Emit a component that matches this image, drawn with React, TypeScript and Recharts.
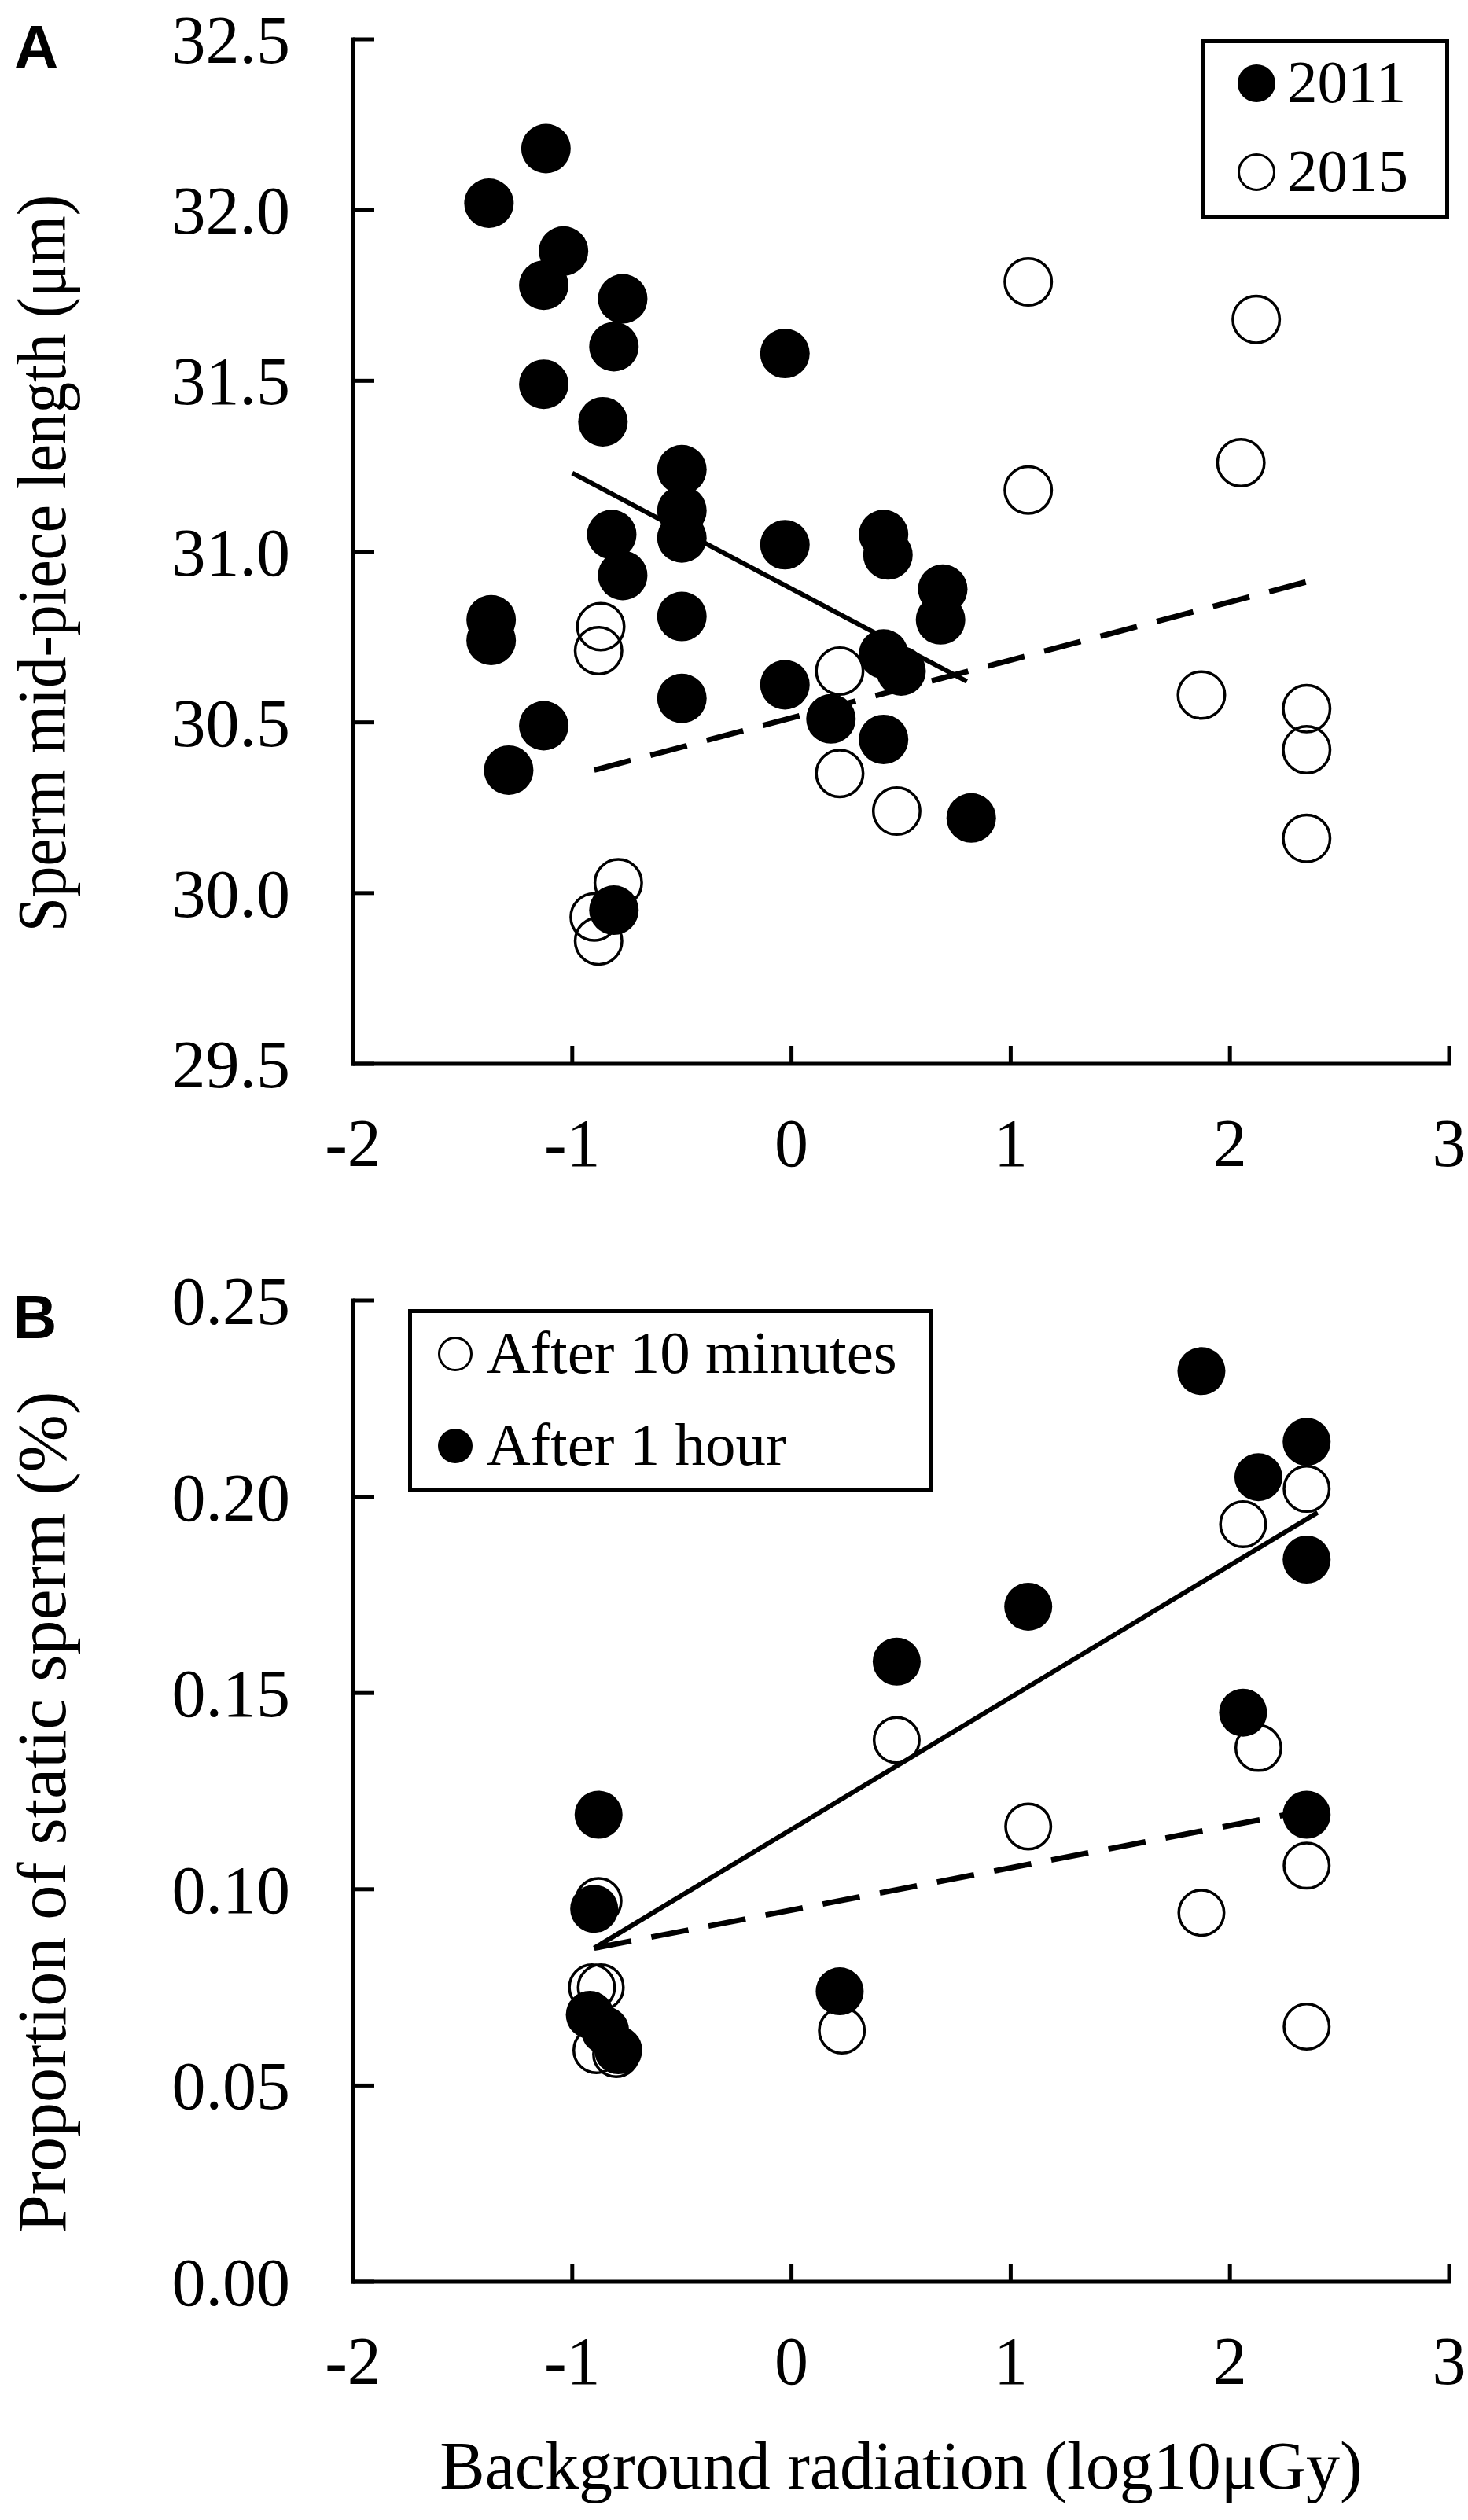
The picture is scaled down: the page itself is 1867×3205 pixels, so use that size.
import React from 'react';
import { ScatterChart, Scatter, XAxis, YAxis, ReferenceLine, Legend } from 'recharts';

const SERIF = '"Liberation Serif", "Times New Roman", serif';
const SANS = '"Liberation Sans", Arial, sans-serif';

// shared x axis: background radiation (log10 µGy)
const radiationTicks = [-2, -1, 0, 1, 2, 3];

// panel A: sperm mid-piece length
const lengthTicks = [29.5, 30.0, 30.5, 31.0, 31.5, 32.0, 32.5];
const length2011: [number, number][] = [
  [-1.38, 32.02], [-1.12, 32.18], [-1.04, 31.88], [-1.13, 31.78], [-0.77, 31.74],
  [-0.81, 31.60], [-1.13, 31.49], [-0.86, 31.38], [-0.03, 31.58], [-0.50, 31.24],
  [-0.50, 31.12], [-0.50, 31.04], [-0.82, 31.05], [-0.77, 30.93], [-0.03, 31.02],
  [-0.50, 30.81], [-1.37, 30.80], [-1.37, 30.74], [-0.50, 30.57], [-1.13, 30.49],
  [-1.29, 30.36], [-0.03, 30.61], [0.18, 30.51], [0.42, 31.05], [0.44, 30.99],
  [0.42, 30.70], [0.50, 30.65], [0.42, 30.45], [0.69, 30.89], [0.68, 30.80],
  [0.82, 30.22], [-0.81, 29.95],
];
const length2015: [number, number][] = [
  [1.08, 31.79], [2.12, 31.68], [1.08, 31.18], [2.05, 31.26], [-0.87, 30.78],
  [-0.88, 30.71], [0.22, 30.65], [0.22, 30.35], [0.48, 30.24], [1.87, 30.58],
  [2.35, 30.54], [2.35, 30.42], [2.35, 30.16], [-0.79, 30.03], [-0.90, 29.93],
  [-0.88, 29.86],
];
const fit2011: [number, number][] = [[-1.0, 31.23], [0.8, 30.62]];
const fit2015: [number, number][] = [[-0.9, 30.36], [2.4, 30.92]];

// panel B: proportion of static sperm
const staticTicks = [0, 0.05, 0.1, 0.15, 0.2, 0.25];
const static10min: [number, number][] = [
  [2.06, 0.193], [2.35, 0.202], [0.48, 0.138], [2.13, 0.136], [1.08, 0.116],
  [2.35, 0.106], [1.87, 0.094], [0.23, 0.064], [2.35, 0.065], [-0.88, 0.097],
  [-0.91, 0.075], [-0.87, 0.075], [-0.89, 0.059], [-0.80, 0.058],
];
const static1hour: [number, number][] = [
  [1.87, 0.232], [2.35, 0.214], [2.13, 0.205], [2.35, 0.184], [1.08, 0.172],
  [0.48, 0.158], [2.06, 0.145], [2.35, 0.119], [-0.88, 0.119], [-0.90, 0.095],
  [0.22, 0.074], [-0.92, 0.068], [-0.85, 0.064], [-0.79, 0.059],
];
const fit1hour: [number, number][] = [[-0.9, 0.085], [2.4, 0.196]];
const fit10min: [number, number][] = [[-0.9, 0.085], [2.35, 0.12]];

const toPoints = (rows: [number, number][]) => rows.map(([x, y]) => ({ x, y }));
const toSegment = (rows: [number, number][]) => rows.map(([x, y]) => ({ x, y }));

const serifText = (size: number) => ({ fontFamily: SERIF, fontSize: size });

const dot = (filled: boolean, r: number) => (props: any) => (
  <circle
    cx={props.cx}
    cy={props.cy}
    r={filled ? r : r - 1.75}
    fill={filled ? '#000' : 'none'}
    stroke="#000"
    strokeWidth={filled ? 0 : 3.5}
  />
);

const YTick = (digits: number) => (props: any) => {
  const { x, y, payload } = props;
  return (
    <g>
      <line x1={x} x2={x + 27} y1={y} y2={y} stroke="#000" strokeWidth={5} />
      <text x={x - 80} y={y + 30} textAnchor="end" style={serifText(86)} fill="#000">
        {Number(payload.value).toFixed(digits)}
      </text>
    </g>
  );
};

const XTick = (props: any) => {
  const { x, y, payload } = props;
  return (
    <g>
      <line x1={x} x2={x} y1={y} y2={y - 23} stroke="#000" strokeWidth={5} />
      <text x={x} y={y + 130} textAnchor="middle" style={serifText(86)} fill="#000">
        {payload.value}
      </text>
    </g>
  );
};

// rotated axis title; squeeze < 1 narrows the text along its reading direction
const yTitle = (text: string, dy: number, squeeze: number) => (props: any) => {
  const vb = props.viewBox || { x: 0, y: 0, width: 0, height: 0 };
  const cx = 83;
  const cy = vb.y + vb.height / 2 + dy;
  return (
    <g transform={`translate(${cx}, ${cy}) rotate(-90) scale(${squeeze}, 1)`}>
      <text x={0} y={0} textAnchor="middle" style={serifText(88)} fill="#000">
        {text}
      </text>
    </g>
  );
};

const xTitle = (text: string, baseline: number) => (props: any) => {
  const vb = props.viewBox || { x: 0, y: 0, width: 0, height: 0 };
  return (
    <text x={vb.x + vb.width / 2} y={vb.y + baseline} textAnchor="middle" style={serifText(86)} fill="#000">
      {text}
    </text>
  );
};

interface LegendBoxProps {
  payload?: any[];
  order: string[];
  filled: Record<string, boolean>;
  width: number;
  height: number;
  markerX: number;
  textX: number;
  rows: number[];
  r: number;
}

const LegendBox = ({ payload, order, filled, width, height, markerX, textX, rows, r }: LegendBoxProps) => {
  const names = order.filter((n) => !payload || payload.some((p) => p.value === n));
  return (
    <svg width={width} height={height} style={{ display: 'block' }}>
      <rect x={2.5} y={2.5} width={width - 5} height={height - 5} fill="#fff" stroke="#000" strokeWidth={5} />
      {names.map((name, i) => (
        <g key={name}>
          <circle
            cx={markerX}
            cy={rows[i] - 24}
            r={filled[name] ? r : r - 1.5}
            fill={filled[name] ? '#000' : 'none'}
            stroke="#000"
            strokeWidth={filled[name] ? 0 : 3}
          />
          <text x={textX} y={rows[i]} style={serifText(77)} fill="#000">
            {name}
          </text>
        </g>
      ))}
    </svg>
  );
};

const axisLine = { stroke: '#000', strokeWidth: 5, strokeLinecap: 'square' as const };

export default function App() {
  return (
    <div style={{ position: 'relative', width: 1867, height: 3205, background: '#fff' }}>
      <style>{'body{margin:0}'}</style>

      <ScatterChart width={1867} height={1560} margin={{ top: 50, right: 24, bottom: 57, left: 0 }}>
        <XAxis
          type="number"
          dataKey="x"
          domain={[-2, 3]}
          ticks={radiationTicks}
          tick={XTick}
          tickLine={false}
          tickSize={0}
          tickMargin={0}
          axisLine={axisLine}
          height={150}
          allowDataOverflow
        />
        <YAxis
          type="number"
          dataKey="y"
          domain={[29.5, 32.5]}
          ticks={lengthTicks}
          tick={YTick(1)}
          tickLine={false}
          tickSize={0}
          tickMargin={0}
          axisLine={axisLine}
          width={449}
          allowDataOverflow
          label={{ content: yTitle('Sperm mid-piece length (μm)', 15, 0.9) }}
        />
        <Legend
          layout="horizontal"
          verticalAlign="middle"
          align="center"
          wrapperStyle={{ position: 'absolute', left: 1527, top: 50, width: 316, height: 229 }}
          content={(p: any) => (
            <LegendBox
              payload={p.payload}
              order={['2011', '2015']}
              filled={{ '2011': true, '2015': false }}
              width={316}
              height={229}
              markerX={71}
              textX={110}
              rows={[80, 193]}
              r={24}
            />
          )}
        />
        <Scatter name="2015" data={toPoints(length2015)} shape={dot(false, 31.5)} isAnimationActive={false} />
        <Scatter name="2011" data={toPoints(length2011)} shape={dot(true, 31.5)} isAnimationActive={false} />
        <ReferenceLine segment={toSegment(fit2011)} stroke="#000" strokeWidth={6} ifOverflow="visible" />
        <ReferenceLine segment={toSegment(fit2015)} stroke="#000" strokeWidth={7} strokeDasharray="48 26" ifOverflow="visible" />
      </ScatterChart>

      <ScatterChart width={1867} height={1645} margin={{ top: 94, right: 24, bottom: 0, left: 0 }}>
        <XAxis
          type="number"
          dataKey="x"
          domain={[-2, 3]}
          ticks={radiationTicks}
          tick={XTick}
          tickLine={false}
          tickSize={0}
          tickMargin={0}
          axisLine={axisLine}
          height={303}
          allowDataOverflow
          label={{ content: xTitle('Background radiation (log10μGy)', 263) }}
        />
        <YAxis
          type="number"
          dataKey="y"
          domain={[0, 0.25]}
          ticks={staticTicks}
          tick={YTick(2)}
          tickLine={false}
          tickSize={0}
          tickMargin={0}
          axisLine={axisLine}
          width={449}
          allowDataOverflow
          label={{ content: yTitle('Proportion of static sperm (%)', 27, 1) }}
        />
        <Legend
          layout="horizontal"
          verticalAlign="middle"
          align="center"
          wrapperStyle={{ position: 'absolute', left: 519, top: 105, width: 668, height: 232 }}
          content={(p: any) => (
            <LegendBox
              payload={p.payload}
              order={['After 10 minutes', 'After 1 hour']}
              filled={{ 'After 10 minutes': false, 'After 1 hour': true }}
              width={668}
              height={232}
              markerX={60}
              textX={100}
              rows={[81, 198]}
              r={22}
            />
          )}
        />
        <Scatter name="After 10 minutes" data={toPoints(static10min)} shape={dot(false, 30.5)} isAnimationActive={false} />
        <Scatter name="After 1 hour" data={toPoints(static1hour)} shape={dot(true, 30.5)} isAnimationActive={false} />
        <ReferenceLine segment={toSegment(fit1hour)} stroke="#000" strokeWidth={6} ifOverflow="visible" />
        <ReferenceLine segment={toSegment(fit10min)} stroke="#000" strokeWidth={7} strokeDasharray="48 26" ifOverflow="visible" />
      </ScatterChart>

      <svg width={200} height={3205} style={{ position: 'absolute', left: 0, top: 0, pointerEvents: 'none' }}>
        <text x={18} y={87} fontSize={78} fontWeight="bold" fontFamily={SANS} fill="#000">A</text>
        <text x={16} y={1702} fontSize={78} fontWeight="bold" fontFamily={SANS} fill="#000">B</text>
      </svg>
    </div>
  );
}
